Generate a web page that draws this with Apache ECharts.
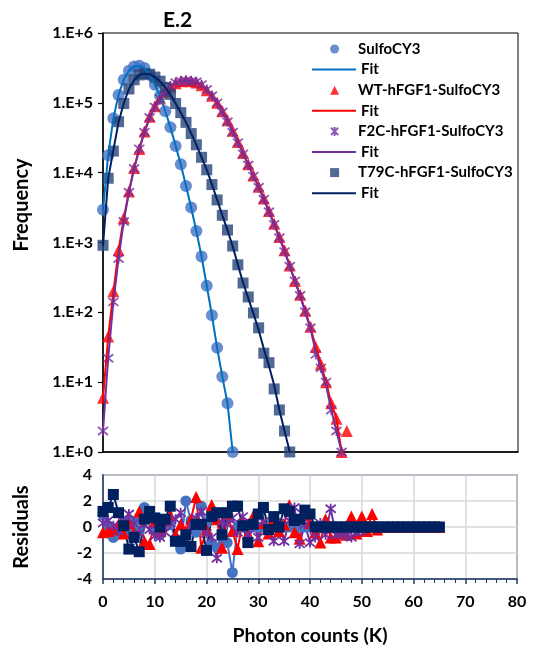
<!DOCTYPE html>
<html>
<head>
<meta charset="utf-8">
<script src="https://cdn.jsdelivr.net/npm/echarts@6/dist/echarts.min.js"></script>
<style>
  html, body { margin: 0; padding: 0; background: #fff; }
  #chart { width: 537px; height: 656px; }
</style>
</head>
<body>
<div id="chart"></div>
<script>
// Photon-count histograms (frequency per 1K-photon bin, bins start at 0K)
const sulfoCY3 = [2950, 17800, 60300, 129000, 214000, 288000, 331000, 339000, 316000, 251000,
  182000, 126000, 75900, 44700, 24000, 13200, 6460, 3160, 1460, 631,
  240, 91, 31, 12, 5, 1];
const fitSulfoCY3 = [2900, 18000, 60000, 130000, 215000, 289000, 332000, 338000, 314000, 252000,
  181000, 125000, 76500, 44500, 24200, 13100, 6450, 3150, 1450, 630,
  240, 90, 31, 12, 5, 1];

const wtFGF1 = [6, 45, 200, 776, 2240, 5370, 11700, 21900, 38900, 63100,
  89100, 115000, 145000, 170000, 191000, 204000, 209000, 204000, 195000, 178000,
  151000, 126000, 100000, 75900, 56200, 39800, 27500, 19100, 13200, 9120,
  6310, 4270, 2820, 1860, 1200, 776, 468, 282, 178, 105,
  62, 32, 18, 10, 5, 3, 1, 2];
const fitWtFGF1 = [6, 44, 195, 770, 2230, 5360, 11700, 21900, 38800, 63000,
  89000, 115000, 145000, 171000, 191000, 204000, 208000, 204000, 195000, 177000,
  151000, 126000, 100000, 75900, 56000, 39800, 27500, 19000, 13200, 9100,
  6300, 4250, 2800, 1850, 1200, 770, 465, 280, 175, 104,
  60, 33, 18, 10, 5, 3, 1];

const f2cFGF1 = [2, 22, 141, 589, 2000, 5250, 11500, 21900, 38000, 61700,
  87100, 115000, 145000, 174000, 195000, 204000, 209000, 204000, 200000, 182000,
  155000, 126000, 100000, 74100, 53700, 38000, 26900, 18600, 12900, 8910,
  6170, 4170, 2750, 1820, 1170, 741, 457, 282, 174, 102,
  60, 25, 16, 10, 4, 2, 1];
const fitF2cFGF1 = [2, 22, 140, 590, 2000, 5250, 11500, 21800, 38000, 61500,
  87000, 115000, 145000, 173000, 194000, 204000, 208000, 204000, 199000, 181000,
  155000, 126000, 100000, 74500, 54000, 38200, 27000, 18700, 12900, 8900,
  6150, 4150, 2750, 1800, 1150, 740, 455, 280, 172, 100,
  58, 27, 16, 9, 4, 2, 1];

const t79cFGF1 = [912, 8320, 20400, 53700, 97700, 158000, 214000, 251000, 263000, 257000,
  234000, 204000, 166000, 132000, 97700, 72400, 52500, 36300, 25100, 16600,
  11000, 6760, 4070, 2450, 1510, 891, 479, 263, 166, 98,
  60, 26, 19, 8, 4, 2, 1];
const fitT79cFGF1 = [900, 8300, 21000, 53000, 98000, 158000, 213000, 250000, 262000, 256000,
  234000, 203000, 167000, 131000, 98000, 72000, 52500, 36500, 25000, 16600,
  11000, 6800, 4100, 2450, 1500, 880, 480, 265, 160, 96,
  56, 30, 17, 9, 4, 2, 1];

// Residuals of each fit, bins 0K..65K
const resSulfoCY3 = [0.9, 0.1, -0.8, -0.4, 0.3, -0.5, 0.4, -0.3, 1.5, 0.9,
  -0.2, -0.6, 0.4, 0.2, -0.9, -1.7, 2.0, 0.5, -0.4, 1.6,
  0.3, -1.3, -1.6, -0.8, -1.2, -3.5, 0, 0, 0, 0,
  0, 0, 0, 0, 0, 0, 0, 0, 0, 0,
  0, 0, 0, 0, 0, 0, 0, 0, 0, 0,
  0, 0, 0, 0, 0, 0, 0, 0, 0, 0,
  0, 0, 0, 0, 0, 0];
const resWtFGF1 = [-0.4, -0.3, -0.2, 0.2, -0.5, 0.3, -0.4, 1.2, -1.1, -1.3,
  0.4, -0.3, 0.5, 0.9, -0.6, 0.2, -0.3, 0.6, 2.3, -1.6,
  -0.2, 1.7, 0.6, -1.6, 1.0, -0.3, -1.7, 0.4, -0.5, 0.8,
  -1.1, 0.3, -0.5, 0.6, -0.3, 0.2, 1.7, -0.4, -0.9, 0.9,
  0.3, -0.4, -1.2, 0.6, -0.8, -0.8, -0.5, -0.6, 0.8, -0.5,
  0.8, -0.3, 1.0, -0.2, 0, 0, 0, 0, 0, 0,
  0, 0, 0, 0, 0, 0];
const resF2cFGF1 = [0.3, 0.5, 0.1, -0.3, 0.4, 1.0, 0.3, -0.5, 0.2, -0.2,
  -0.7, -0.8, -0.4, 0.3, 0.6, 1.1, -0.9, 0.1, 0.7, 1.2,
  -0.5, -0.8, -2.4, 0.4, 0.2, 0.7, -0.4, 0.8, -0.6, 0.3,
  -0.8, 0.4, -0.3, -1.1, 0.3, -1.1, 0.5, 1.5, -1.3, 0.2,
  -1.2, -0.8, 0.3, -0.6, 1.4, -0.6, -0.5, -0.7, -0.8, -0.4,
  -0.3, 0, 0, 0, 0, 0, 0, 0, 0, 0,
  0, 0, 0, 0, 0, 0];
const resT79cFGF1 = [1.2, 1.5, 2.5, 1.1, 0.1, -1.7, -0.8, -1.9, 0.6, 1.2,
  0.7, 0, 0.6, 1.6, -1.1, -1.1, -0.6, -1.5, 0.2, 0.2,
  -1.8, 0.8, 1.1, -0.6, 1.1, 1.6, 1.6, 0.1, -1.2, 0.2,
  1.0, 1.5, -0.2, 0.8, 0, 1.4, 1.2, 0.5, 0.6, 1.3,
  1.0, 0, 0, 0, 0, 0, 0, 0, 0, 0,
  0, 0, 0, 0, 0, 0, 0, 0, 0, 0,
  0, 0, 0, 0, 0, 0];

const xTicks = [0, 10, 20, 30, 40, 50, 60, 70, 80];
const residualTicks = [-4, -2, 0, 2, 4];

const FONT = 'Lato';
const STAR = 'path://M1,1L9,9M9,1L1,9M5,0L5,10';
const pairs = arr => arr.map((v, i) => [i, v]);

const chart = echarts.init(document.getElementById('chart'), null, { renderer: 'canvas' });

const markerSeries = (name, data, symbol, size, color, star) => ({
  name, type: 'scatter', xAxisIndex: 0, yAxisIndex: 0,
  symbol, symbolSize: size, data: pairs(data),
  itemStyle: star ? { color: 'rgba(0,0,0,0)', borderColor: color, borderWidth: 1.8 } : { color },
  emphasis: { disabled: true }
});
const fitSeries = (name, data, color) => ({
  name, type: 'line', xAxisIndex: 0, yAxisIndex: 0, symbol: 'none',
  data: pairs(data), lineStyle: { color, width: 2 }, itemStyle: { color },
  emphasis: { disabled: true }
});
const residualSeries = (name, data, symbol, size, color, star) => ({
  name, type: 'line', xAxisIndex: 1, yAxisIndex: 1,
  symbol, symbolSize: size, showAllSymbol: true, data: pairs(data),
  lineStyle: { color, width: 2 },
  itemStyle: star ? { color: 'rgba(0,0,0,0)', borderColor: color, borderWidth: 1.8 } : { color, borderWidth: 0 },
  emphasis: { disabled: true }
});

const legendText = { fontFamily: FONT, fontWeight: 'bold', fontSize: 15, color: '#000', lineHeight: 16 };
const ROW = 20.6;
const LEGEND_TOP = 36;

const option = {
  animation: false,
  backgroundColor: '#fff',
  title: {
    text: 'E.2', left: 158, top: 5,
    textStyle: { fontFamily: FONT, fontWeight: 'bold', fontSize: 21, color: '#000' }
  },
  legend: [
    {
      // sample markers
      orient: 'vertical', left: 325, top: LEGEND_TOP,
      itemWidth: 9, itemHeight: 9, itemGap: 2 * ROW - 16,
      data: [
        { name: 'SulfoCY3', icon: 'circle' },
        { name: 'WT-hFGF1-SulfoCY3', icon: 'triangle' },
        { name: 'F2C-hFGF1-SulfoCY3' },
        { name: 'T79C-hFGF1-SulfoCY3', icon: 'rect' }
      ],
      textStyle: Object.assign({ padding: [0, 0, 0, 14] }, legendText),
      selectedMode: false
    },
    {
      // fit curves
      orient: 'vertical', left: 307, top: LEGEND_TOP + ROW,
      itemWidth: 44, itemHeight: 2, itemGap: 2 * ROW - 16,
      data: [
        { name: 'Fit1', icon: 'rect' },
        { name: 'Fit2', icon: 'rect' },
        { name: 'Fit3', icon: 'rect' },
        { name: 'Fit4', icon: 'rect' }
      ],
      formatter: () => 'Fit',
      textStyle: legendText,
      selectedMode: false
    }
  ],
  grid: [
    { left: 103, top: 33, width: 415, height: 419, show: true, borderColor: '#000', borderWidth: 1 },
    { left: 103, top: 475, width: 414, height: 104, show: true, borderColor: '#1F3864', borderWidth: 1.5 }
  ],
  xAxis: [
    {
      gridIndex: 0, type: 'value', min: 0, max: 80,
      axisLine: { show: true, lineStyle: { color: '#000', width: 1.5 } },
      axisTick: { show: false }, axisLabel: { show: false }, splitLine: { show: false }
    },
    {
      gridIndex: 1, type: 'value', min: xTicks[0], max: xTicks[xTicks.length - 1], interval: 10,
      axisLine: { show: true, onZero: false, lineStyle: { color: '#1F3864', width: 1.5 } },
      axisTick: { show: true, length: 5, lineStyle: { color: '#1F3864', width: 1.5 } },
      minorTick: { show: true, splitNumber: 5, length: 4, lineStyle: { color: '#1F3864', width: 1 } },
      splitLine: { show: true, lineStyle: { color: '#D9D9D9', width: 1.5 } },
      axisLabel: { margin: 15, fontFamily: FONT, fontWeight: 'bold', fontSize: 16, color: '#000' },
      name: 'Photon counts (K)', nameLocation: 'middle', nameGap: 47,
      nameTextStyle: { fontFamily: FONT, fontWeight: 'bold', fontSize: 19.5, color: '#000' }
    }
  ],
  yAxis: [
    {
      gridIndex: 0, type: 'log', logBase: 10, min: 1, max: 1e6,
      axisLine: { show: true, lineStyle: { color: '#000', width: 1.5 } },
      axisTick: { show: true, length: 5, lineStyle: { color: '#000', width: 1.2 } },
      splitLine: { show: false }, minorTick: { show: false },
      axisLabel: {
        margin: 10, fontFamily: FONT, fontWeight: 'bold', fontSize: 16, color: '#000',
        formatter: v => '1.E+' + Math.round(Math.log10(v))
      }
    },
    {
      gridIndex: 1, type: 'value', min: residualTicks[0], max: residualTicks[residualTicks.length - 1], interval: 2,
      axisLine: { show: true, lineStyle: { color: '#1F3864', width: 1.5 } },
      axisTick: { show: false },
      splitLine: { show: true, lineStyle: { color: '#D9D9D9', width: 1.5 } },
      axisLabel: { margin: 11, fontFamily: FONT, fontWeight: 'bold', fontSize: 16, color: '#000' }
    }
  ],
  graphic: [
    {
      type: 'text', x: 22, y: 205, rotation: Math.PI / 2,
      style: { text: 'Frequency', font: 'bold 20px ' + FONT, fill: '#000', textAlign: 'center', textVerticalAlign: 'middle' }
    },
    {
      type: 'text', x: 22, y: 527, rotation: Math.PI / 2,
      style: { text: 'Residuals', font: 'bold 20px ' + FONT, fill: '#000', textAlign: 'center', textVerticalAlign: 'middle' }
    }
  ],
  series: [
    markerSeries('SulfoCY3', sulfoCY3, 'circle', 12, '#4472C4'),
    fitSeries('Fit1', fitSulfoCY3, '#0070C0'),
    markerSeries('WT-hFGF1-SulfoCY3', wtFGF1, 'triangle', 12, '#FF0000'),
    fitSeries('Fit2', fitWtFGF1, '#FF0000'),
    markerSeries('F2C-hFGF1-SulfoCY3', f2cFGF1, STAR, 10, '#7030A0', true),
    fitSeries('Fit3', fitF2cFGF1, '#7030A0'),
    markerSeries('T79C-hFGF1-SulfoCY3', t79cFGF1, 'rect', 11, '#264478'),
    fitSeries('Fit4', fitT79cFGF1, '#002060'),

    residualSeries('SulfoCY3 residuals', resSulfoCY3, 'circle', 11, '#4472C4'),
    residualSeries('WT residuals', resWtFGF1, 'triangle', 12, '#FF0000'),
    residualSeries('F2C residuals', resF2cFGF1, STAR, 10, '#7030A0', true),
    residualSeries('T79C residuals', resT79cFGF1, 'rect', 11, '#002060')
  ]
};

chart.setOption(option);
</script>
</body>
</html>
